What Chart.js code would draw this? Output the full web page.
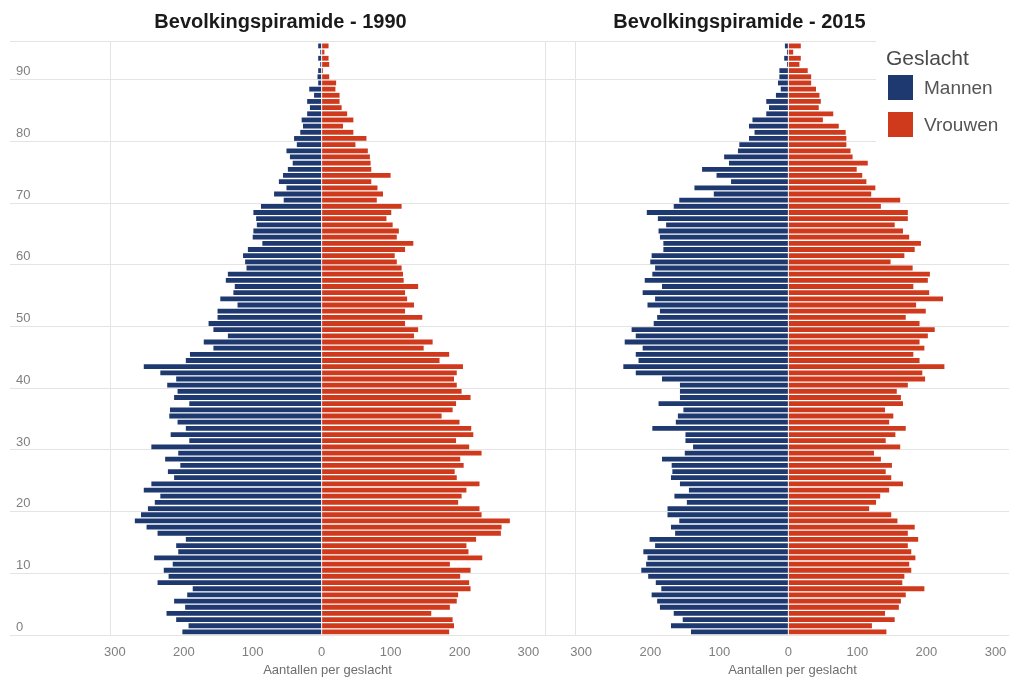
<!DOCTYPE html>
<html><head><meta charset="utf-8">
<script src="https://cdn.jsdelivr.net/npm/chart.js@4.4.1/dist/chart.umd.min.js"></script>
<style>
html,body{margin:0;padding:0;background:#fff;overflow:hidden;}
#wrap{position:relative;width:1009px;height:677px;overflow:hidden;background:#fff;}
#c1{position:absolute;left:0;top:0;width:556px;height:677px;}
#c2{position:absolute;left:469px;top:0;width:551px;height:677px;}
</style></head><body>
<div id="wrap">
<canvas id="c1" width="556" height="677"></canvas>
<canvas id="c2" width="551" height="677"></canvas>
</div>
<script>
// ---- data ----
const ages = [0,1,2,3,4,5,6,7,8,9,10,11,12,13,14,15,16,17,18,19,20,21,22,23,24,25,26,27,28,29,30,31,32,33,34,35,36,37,38,39,40,41,42,43,44,45,46,47,48,49,50,51,52,53,54,55,56,57,58,59,60,61,62,63,64,65,66,67,68,69,70,71,72,73,74,75,76,77,78,79,80,81,82,83,84,85,86,87,88,89,90,91,92,93,94,95];

const men1990 = [202,193,211,225,198,214,195,187,238,222,229,216,243,208,211,197,238,254,271,262,252,242,234,258,247,214,223,205,227,208,247,192,219,197,209,221,220,192,214,209,224,211,234,258,197,191,157,171,136,157,164,151,151,122,147,128,126,139,136,109,111,114,107,86,100,99,94,95,99,88,55,69,51,62,56,49,42,46,51,36,40,31,27,29,21,17,21,11,18,5,6,5,2,5,2,5];
const women1990 = [185,192,190,159,186,196,198,216,214,201,216,186,233,213,210,224,260,261,273,232,229,198,203,210,229,196,193,206,201,232,214,195,220,217,200,174,190,195,216,203,196,192,196,205,171,185,148,161,134,140,121,146,121,134,124,121,140,119,118,116,109,106,121,133,109,112,103,94,101,116,80,89,81,72,100,72,71,70,67,49,65,46,31,46,37,29,26,26,20,21,11,2,11,10,4,10];

const men2015 = [141,170,153,166,186,190,198,184,192,203,213,206,204,210,193,201,164,170,158,175,175,147,165,144,157,170,168,169,183,150,138,149,149,197,163,160,152,188,157,157,157,183,221,239,217,221,211,237,221,227,195,190,186,204,193,211,183,208,197,193,200,198,181,181,186,188,177,189,205,166,158,108,136,83,104,125,86,93,73,71,57,49,57,52,32,28,32,18,11,15,13,13,2,6,2,5];
const women2015 = [142,121,154,140,160,163,170,197,165,168,178,175,184,178,173,188,173,183,158,149,117,127,133,146,166,149,141,150,134,124,162,141,155,170,146,152,140,166,163,157,173,198,194,226,190,181,197,190,202,212,190,170,199,185,224,204,181,202,205,180,148,168,183,192,175,166,154,173,173,134,162,120,126,113,107,99,115,93,90,84,84,83,73,50,65,44,47,45,40,33,33,28,16,18,7,18];

const seriesNames = ['Mannen', 'Vrouwen'];
const seriesColors = ['#1e3870', '#cf391c'];
const chartTitles = ['Bevolkingspiramide - 1990', 'Bevolkingspiramide - 2015'];
const legendTitle = 'Geslacht';
const axisTitle = 'Aantallen per geslacht';
const yTickAges = [0,10,20,30,40,50,60,70,80,90];
const xTickValues = [-300,-200,-100,0,100,200,300];

// ---- styling ----
const FONT = '"Liberation Sans", Arial, Helvetica, sans-serif';
const GRID = '#e4e4e4';
const TICKC = '#7f7f7f';
const Y_MIN = -0.5, Y_MAX = 95.8;

function buildChart(canvasId, title, men, women, xmin, xmax, isLeft, extraPlugins) {
  const data = {
    datasets: [
      { label: seriesNames[0], data: ages.map((a, i) => ({ x: -men[i], y: a })), backgroundColor: seriesColors[0], grouped: false, barPercentage: 0.78, categoryPercentage: 1 },
      { label: seriesNames[1], data: ages.map((a, i) => ({ x: women[i], y: a })), backgroundColor: seriesColors[1], grouped: false, barPercentage: 0.78, categoryPercentage: 1 }
    ]
  };
  return new Chart(document.getElementById(canvasId), {
    type: 'bar',
    data: data,
    plugins: extraPlugins || [],
    options: {
      indexAxis: 'y',
      responsive: false,
      animation: false,
      layout: { padding: isLeft ? { left: 16, right: 11, top: 0, bottom: 0 } : { left: 0, right: 10, top: 0, bottom: 0 } },
      plugins: {
        legend: { display: false },
        tooltip: { enabled: false },
        title: {
          display: true, text: title, color: '#1a1a1a',
          font: { family: FONT, size: 20, weight: 'bold' },
          padding: { top: 10, bottom: 7 }
        }
      },
      scales: {
        x: {
          type: 'linear', min: xmin, max: xmax,
          afterBuildTicks: (s) => { s.ticks = [xmin].concat(xTickValues, [xmax]).map(v => ({ value: v })); },
          afterFit: (s) => { s.height = 42; },
          ticks: {
            autoSkip: false, maxRotation: 0, padding: 10, color: TICKC,
            font: { family: FONT, size: 13 },
            callback: (v) => (v === xmin || v === xmax) ? '' : String(Math.abs(v))
          },
          grid: {
            drawTicks: false,
            color: (ctx) => (ctx.tick && (ctx.tick.value === xmin || ctx.tick.value === xmax)) ? GRID : 'rgba(0,0,0,0)',
            lineWidth: 1
          },
          border: { display: false },
          title: {
            display: true, text: axisTitle, color: '#6e6e6e',
            font: { family: FONT, size: 13, lineHeight: 1 },
            padding: { top: 0, bottom: 0 }
          }
        },
        y: {
          type: 'linear', min: Y_MIN, max: Y_MAX, offset: false,
          afterBuildTicks: (s) => { s.ticks = yTickAges.map(a => ({ value: a - 0.5 })).concat([{ value: Y_MAX }]); },
          afterFit: (s) => { s.width = isLeft ? 94 : 106; },
          ticks: {
            display: isLeft,
            crossAlign: 'far', padding: 0, labelOffset: -8, color: TICKC,
            font: { family: FONT, size: 13 },
            callback: (v) => (v > 95) ? '' : String(Math.round(v + 0.5))
          },
          grid: {
            offset: false,
            color: GRID, tickColor: GRID, drawTicks: true,
            tickLength: isLeft ? 100 : 30, lineWidth: 1
          },
          border: { display: false }
        }
      }
    }
  });
}

const legendPlugin = {
  id: 'geslachtLegend',
  afterDraw(chart) {
    const ctx = chart.ctx;
    const ox = 469; // canvas offset in page
    ctx.save();
    ctx.fillStyle = '#ffffff';
    ctx.fillRect(876 - ox, 38, 200, 112);
    ctx.textBaseline = 'middle';
    ctx.textAlign = 'left';
    ctx.fillStyle = '#4a4a4a';
    ctx.font = '21px ' + FONT;
    ctx.fillText(legendTitle, 886 - ox, 59);
    chart.data.datasets.forEach((ds, i) => {
      const y = 75 + i * 37;
      ctx.fillStyle = ds.backgroundColor;
      ctx.fillRect(888 - ox, y, 25, 25);
      ctx.fillStyle = '#555555';
      ctx.font = '19px ' + FONT;
      ctx.fillText(ds.label, 924 - ox, y + 14);
    });
    ctx.restore();
  }
};

buildChart('c1', chartTitles[0], men1990, women1990, -307, 324, true);
buildChart('c2', chartTitles[1], men2015, women2015, -309, 321, false, [legendPlugin]);
</script>
</body></html>
